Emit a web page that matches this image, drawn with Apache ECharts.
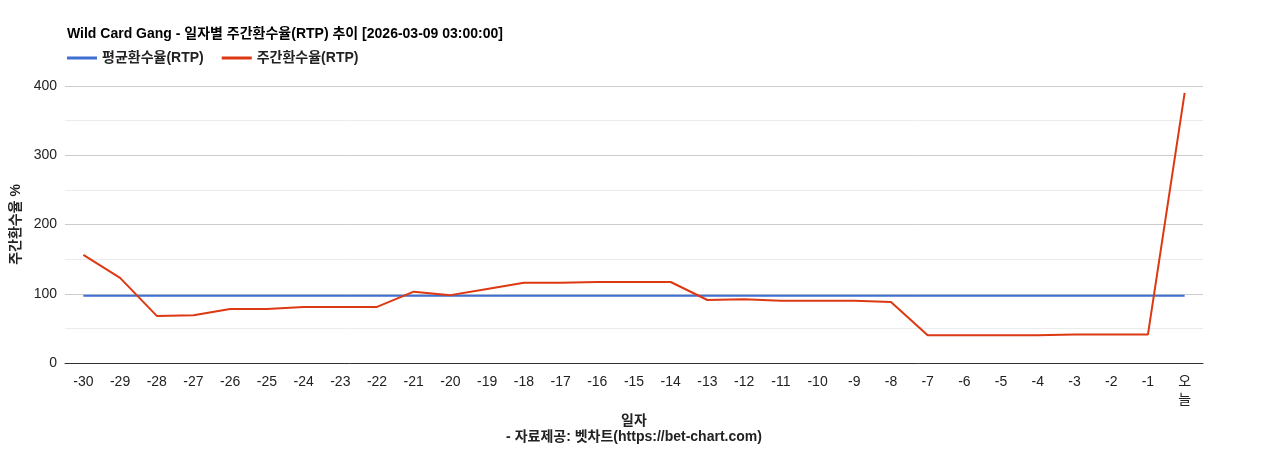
<!DOCTYPE html>
<html><head><meta charset="utf-8">
<script src="https://cdn.jsdelivr.net/npm/echarts@6/dist/echarts.min.js"></script>
<style>html,body{margin:0;background:#fff}#c{width:1268px;height:450px}</style>
</head><body><div id="c"></div>
<script>
var days = ['-30','-29','-28','-27','-26','-25','-24','-23','-22','-21','-20','-19','-18','-17','-16','-15','-14','-13','-12','-11','-10','-9','-8','-7','-6','-5','-4','-3','-2','-1','오\n늘'];
var weekly = [156,123,68,69,78,78,81,81,81,103,98,107,116,116,117,117,117,91,92,90,90,90,88,40,40,40,40,41,41,41,390];
var avgValue = 97;
var average = days.map(function(){ return avgValue; });

var chart = echarts.init(document.getElementById('c'));
var font = '"Liberation Sans", "Noto Sans CJK KR", sans-serif';
chart.setOption({
    textStyle: { fontFamily: font },
    title: {
        text: 'Wild Card Gang - 일자별 주간환수율(RTP) 추이 [2026-03-09 03:00:00]',
        left: 62, top: 22,
        textStyle: { fontSize: 14, fontWeight: 'bold', color: '#000', fontFamily: font }
    },
    legend: {
        left: 62, top: 46, itemWidth: 30, itemHeight: 3, itemGap: 18,
        icon: 'rect',
        textStyle: { fontSize: 14, fontWeight: 'bold', color: '#222' },
        data: ['평균환수율(RTP)', '주간환수율(RTP)']
    },
    graphic: [{
        type: 'text', left: 'center', top: 430,
        style: { text: '- 자료제공: 벳차트(https://bet-chart.com)', fontSize: 14, fontWeight: 'bold', fill: '#222', fontFamily: font }
    }],
    grid: { left: 65, right: 65, top: 86, bottom: 87 },
    xAxis: {
        type: 'category', data: days, boundaryGap: true,
        name: '일자', nameLocation: 'middle', nameGap: 46,
        nameTextStyle: { fontSize: 14, fontWeight: 'bold', color: '#222' },
        axisLine: { lineStyle: { color: '#333' } },
        axisTick: { show: false },
        axisLabel: { color: '#222', fontSize: 14, interval: 0, lineHeight: 18, margin: 10 }
    },
    yAxis: {
        type: 'value', min: 0, max: 400, interval: 50,
        name: '주간환수율 %', nameLocation: 'middle', nameGap: 24, nameRotate: 90,
        nameTextStyle: { fontSize: 14, fontWeight: 'bold', color: '#222' },
        axisLine: { show: false }, axisTick: { show: false },
        axisLabel: { color: '#222', fontSize: 14, formatter: function(v){ return v % 100 === 0 ? v : ''; } },
        splitLine: { lineStyle: { color: ['#cccccc', '#ebebeb'] } }
    },
    series: [
        { name: '평균환수율(RTP)', type: 'line', data: average, showSymbol: false, symbol: 'none',
          color: '#3f6fd1', lineStyle: { width: 2 } },
        { name: '주간환수율(RTP)', type: 'line', data: weekly, showSymbol: false, symbol: 'none',
          color: '#dc3912', lineStyle: { width: 2 } }
    ]
});
</script></body></html>
